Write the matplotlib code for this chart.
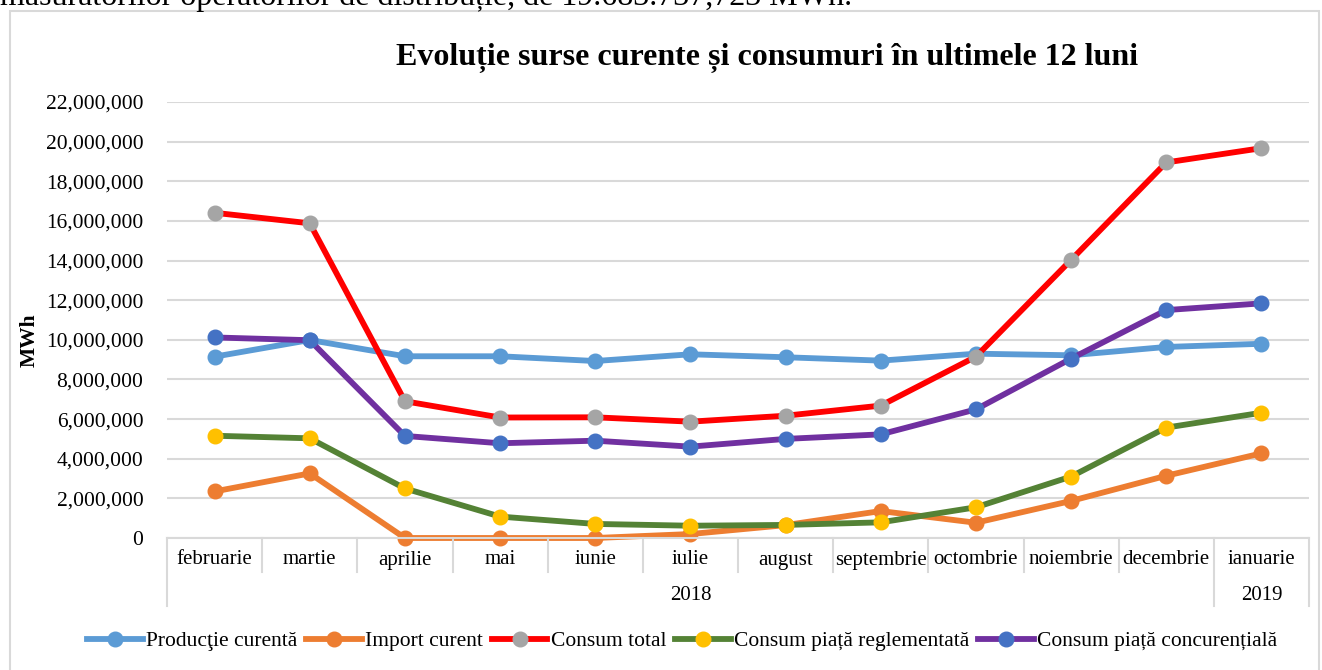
import matplotlib

matplotlib.use("Agg")
import matplotlib.pyplot as plt
from matplotlib.patches import Rectangle
from matplotlib.ticker import FuncFormatter, MultipleLocator
from matplotlib.transforms import blended_transform_factory

plt.rcParams["font.family"] = ["Liberation Serif", "DejaVu Serif"]

# data (MWh)
months = ["februarie", "martie", "aprilie", "mai", "iunie", "iulie", "august",
          "septembrie", "octombrie", "noiembrie", "decembrie", "ianuarie"]
years = ["2018", "2019"]
year_spans = [(0, 10), (11, 11)]  # first/last month index for each year

productie_curenta = [9150000, 9990000, 9170000, 9170000, 8930000, 9270000,
                     9120000, 8950000, 9300000, 9220000, 9640000, 9800000]
import_curent = [2350000, 3260000, 0, 0, 0, 200000,
                 650000, 1360000, 770000, 1870000, 3140000, 4270000]
consum_total = [16410000, 15880000, 6900000, 6080000, 6090000, 5870000,
                6170000, 6680000, 9150000, 14030000, 18950000, 19670000]
consum_reglementat = [5160000, 5030000, 2500000, 1080000, 710000, 620000,
                      660000, 790000, 1550000, 3100000, 5570000, 6320000]
consum_concurential = [10120000, 9980000, 5150000, 4780000, 4910000, 4610000,
                       5000000, 5230000, 6490000, 9050000, 11500000, 11840000]

# (label, values, line colour, marker colour)
series = [
    ("Producţie curentă", productie_curenta, "#5B9BD5", "#5B9BD5"),
    ("Import curent", import_curent, "#ED7D31", "#ED7D31"),
    ("Consum total", consum_total, "#FF0000", "#A5A5A5"),
    ("Consum piață reglementată", consum_reglementat, "#548235", "#FFC000"),
    ("Consum piață concurențială", consum_concurential, "#7030A0", "#4472C4"),
]

W, H = 1322, 670
GRID = "#d9d9d9"
INK = "#000000"


def fx(px):
    return px / W


def fy(py):
    return (H - py) / H


fig = plt.figure(figsize=(W / 100, H / 100), dpi=100, facecolor="white")

# chart frame and the cut-off line of document text above it
fig.patches.append(Rectangle((fx(10), fy(H + 10)), fx(1319) - fx(10), fy(11) - fy(H + 10),
                             transform=fig.transFigure, fill=False,
                             edgecolor=GRID, linewidth=1.5))
fig.text(fx(0), fy(5), "măsurătorilor operatorilor de distribuție, de 19.683.737,723 MWh.",
         fontsize=23, color=INK, ha="left", va="baseline")

ax = fig.add_axes([fx(167), fy(538), fx(1309) - fx(167), fy(102) - fy(538)])
x = list(range(len(months)))
handles = []
for label, values, line_c, marker_c in series:
    (h,) = ax.plot(x, values, color=line_c, linewidth=4.2, marker="o",
                   markersize=10.5, markerfacecolor=marker_c,
                   markeredgecolor=marker_c, label=label, clip_on=False)
    handles.append(h)

ax.set_xlim(-0.5, len(months) - 0.5)
ax.set_ylim(0, 22000000)
ax.yaxis.set_major_locator(MultipleLocator(2000000))
ax.yaxis.set_major_formatter(FuncFormatter(lambda v, _: f"{int(v):,}"))
ax.yaxis.grid(True, color=GRID, linewidth=1.5)
ax.set_axisbelow(True)
for side in ("top", "right", "left"):
    ax.spines[side].set_visible(False)
ax.spines["bottom"].set_color(GRID)
ax.spines["bottom"].set_linewidth(1.5)
ax.tick_params(axis="y", length=0, pad=17, labelsize=15.5, labelcolor=INK)
ax.set_xticks([])

# two-level category axis (months, then years)
tr = blended_transform_factory(ax.transData, fig.transFigure)
long_edges = {-0.5, len(months) - 0.5}
for first, last in year_spans:
    long_edges.add(first - 0.5)
    long_edges.add(last + 0.5)
for i in range(len(months) + 1):
    edge = i - 0.5
    bottom = 606 if edge in long_edges else 572
    ax.plot([edge, edge], [fy(538), fy(bottom)], transform=tr, color=GRID,
            linewidth=1.5, clip_on=False)
for i, m in enumerate(months):
    ax.text(i, fy(560), m, transform=tr, ha="center", va="center",
            fontsize=15, color=INK)
for yr, (first, last) in zip(years, year_spans):
    ax.text((first + last) / 2, fy(595), yr, transform=tr, ha="center",
            va="center", fontsize=15, color=INK)

fig.text(fx(30), fy(340), "MWh", rotation=90, ha="center", va="center",
         fontsize=15.5, fontweight="bold", color=INK)
fig.text(fx(767), fy(58), "Evoluție surse curente și consumuri în ultimele 12 luni",
         ha="center", va="center", fontsize=23, fontweight="bold", color=INK)

fig.legend(handles=handles, loc="center", bbox_to_anchor=(fx(682), fy(641)),
           ncol=5, frameon=False, fontsize=15.5, handlelength=2.6,
           handletextpad=0.15, columnspacing=0.4, borderaxespad=0)

fig.savefig("out.png", dpi=100, facecolor="white")
